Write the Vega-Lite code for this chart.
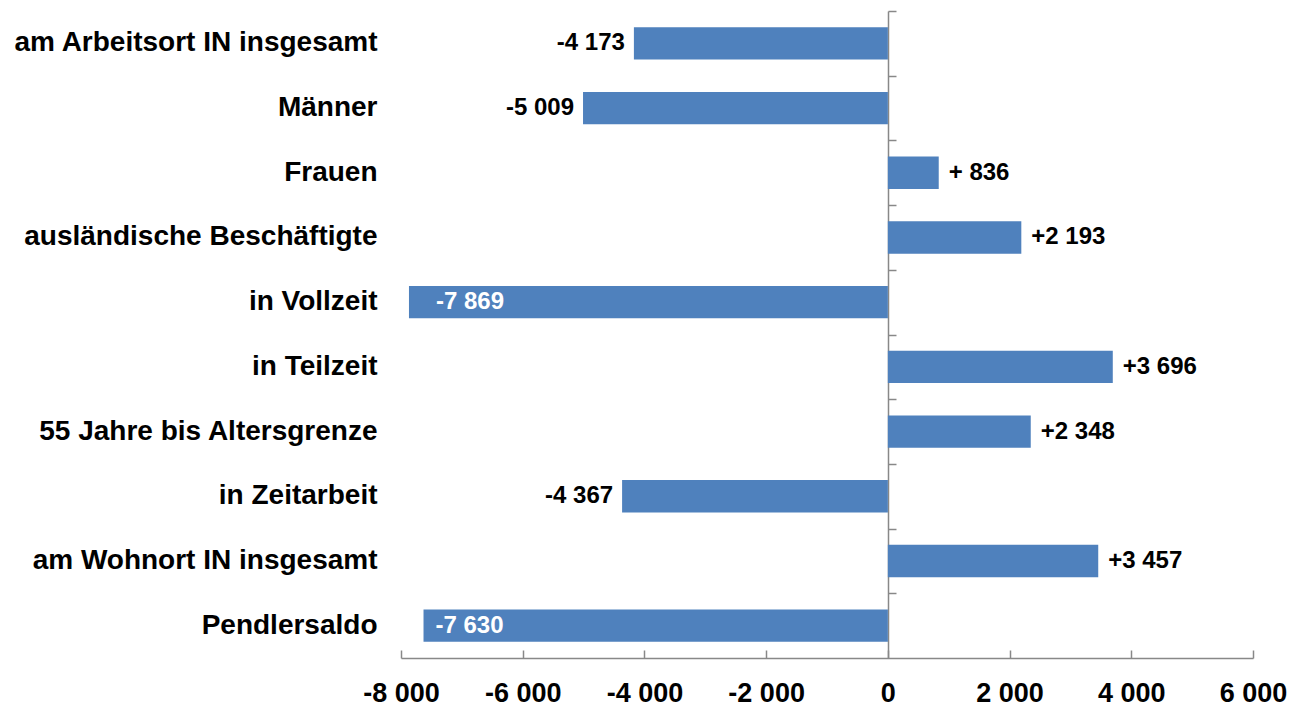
{
  "$schema": "https://vega.github.io/schema/vega-lite/v6.json",
  "width": 852,
  "height": 647,
  "autosize": {"type": "none"},
  "padding": {"left": 401, "top": 11, "right": 50, "bottom": 49},
  "background": "white",
  "config": {
    "view": {"stroke": null},
    "font": "Liberation Sans",
    "locale": {"number": {"decimal": ",", "thousands": " ", "grouping": [3], "currency": ["", ""], "minus": "-"}}
  },
  "data": {
    "values": [
      {"category": "am Arbeitsort IN insgesamt", "value": -4173, "label": "-4 173"},
      {"category": "Männer", "value": -5009, "label": "-5 009"},
      {"category": "Frauen", "value": 836, "label": "+ 836"},
      {"category": "ausländische Beschäftigte", "value": 2193, "label": "+2 193"},
      {"category": "in Vollzeit", "value": -7869, "label": "-7 869"},
      {"category": "in Teilzeit", "value": 3696, "label": "+3 696"},
      {"category": "55 Jahre bis Altersgrenze", "value": 2348, "label": "+2 348"},
      {"category": "in Zeitarbeit", "value": -4367, "label": "-4 367"},
      {"category": "am Wohnort IN insgesamt", "value": 3457, "label": "+3 457"},
      {"category": "Pendlersaldo", "value": -7630, "label": "-7 630"}
    ]
  },
  "resolve": {"scale": {"y": "shared", "x": "shared"}, "axis": {"y": "independent", "x": "independent"}},
  "layer": [
    {
      "mark": {"type": "bar", "color": "#4F81BD"},
      "encoding": {
        "y": {
          "field": "category", "type": "nominal", "sort": null,
          "scale": {"paddingInner": 0.5, "paddingOuter": 0.25},
          "axis": {
            "orient": "left", "title": null, "domain": false, "ticks": false,
            "labelPadding": 24, "labelFontSize": 28, "labelFontWeight": "bold",
            "labelColor": "#000000", "labelLimit": 500, "labelFont": "Liberation Sans"
          }
        },
        "x": {
          "field": "value", "type": "quantitative",
          "scale": {"domain": [-8000, 6000], "nice": false, "zero": false},
          "axis": {
            "orient": "bottom", "title": null, "values": [-8000, -6000, -4000, -2000, 0, 2000, 4000, 6000],
            "format": ",d", "grid": false, "domainColor": "#888888", "domainWidth": 1.5,
            "tickColor": "#888888", "tickSize": -8, "tickWidth": 1.5,
            "labelPadding": 30, "labelFontSize": 27, "labelFontWeight": "bold",
            "labelColor": "#000000", "labelFont": "Liberation Sans", "labelFlush": false
          }
        }
      }
    },
    {
      "transform": [{"filter": "datum.value < 0 && datum.value > -7000"}],
      "mark": {"type": "text", "align": "right", "baseline": "middle", "dx": -9, "fontSize": 24, "fontWeight": "bold", "color": "#000000", "font": "Liberation Sans"},
      "encoding": {
        "y": {"field": "category", "type": "nominal", "sort": null,
          "axis": {"orient": "right", "offset": -365, "title": null, "labels": false,
            "domain": true, "domainColor": "#888888", "domainWidth": 1.5,
            "ticks": true, "tickOffset": -32.35, "tickSize": 8, "tickColor": "#888888", "tickWidth": 1.5}},
        "x": {"field": "value", "type": "quantitative", "axis": null},
        "text": {"field": "label"}
      }
    },
    {
      "transform": [{"filter": "datum.value > 0"}],
      "mark": {"type": "text", "align": "left", "baseline": "middle", "dx": 10, "fontSize": 24, "fontWeight": "bold", "color": "#000000", "font": "Liberation Sans"},
      "encoding": {
        "y": {"field": "category", "type": "nominal", "sort": null, "axis": null},
        "x": {"field": "value", "type": "quantitative", "axis": null},
        "text": {"field": "label"}
      }
    },
    {
      "transform": [{"filter": "datum.category == 'in Vollzeit'"}],
      "mark": {"type": "text", "align": "left", "baseline": "middle", "dx": 27, "fontSize": 24, "fontWeight": "bold", "color": "#FFFFFF", "font": "Liberation Sans"},
      "encoding": {
        "y": {"field": "category", "type": "nominal", "sort": null, "axis": null},
        "x": {"field": "value", "type": "quantitative", "axis": null},
        "text": {"field": "label"}
      }
    },
    {
      "transform": [{"filter": "datum.category == 'Pendlersaldo'"}],
      "mark": {"type": "text", "align": "left", "baseline": "middle", "dx": 12, "fontSize": 24, "fontWeight": "bold", "color": "#FFFFFF", "font": "Liberation Sans"},
      "encoding": {
        "y": {"field": "category", "type": "nominal", "sort": null, "axis": null},
        "x": {"field": "value", "type": "quantitative", "axis": null},
        "text": {"field": "label"}
      }
    }
  ]
}
